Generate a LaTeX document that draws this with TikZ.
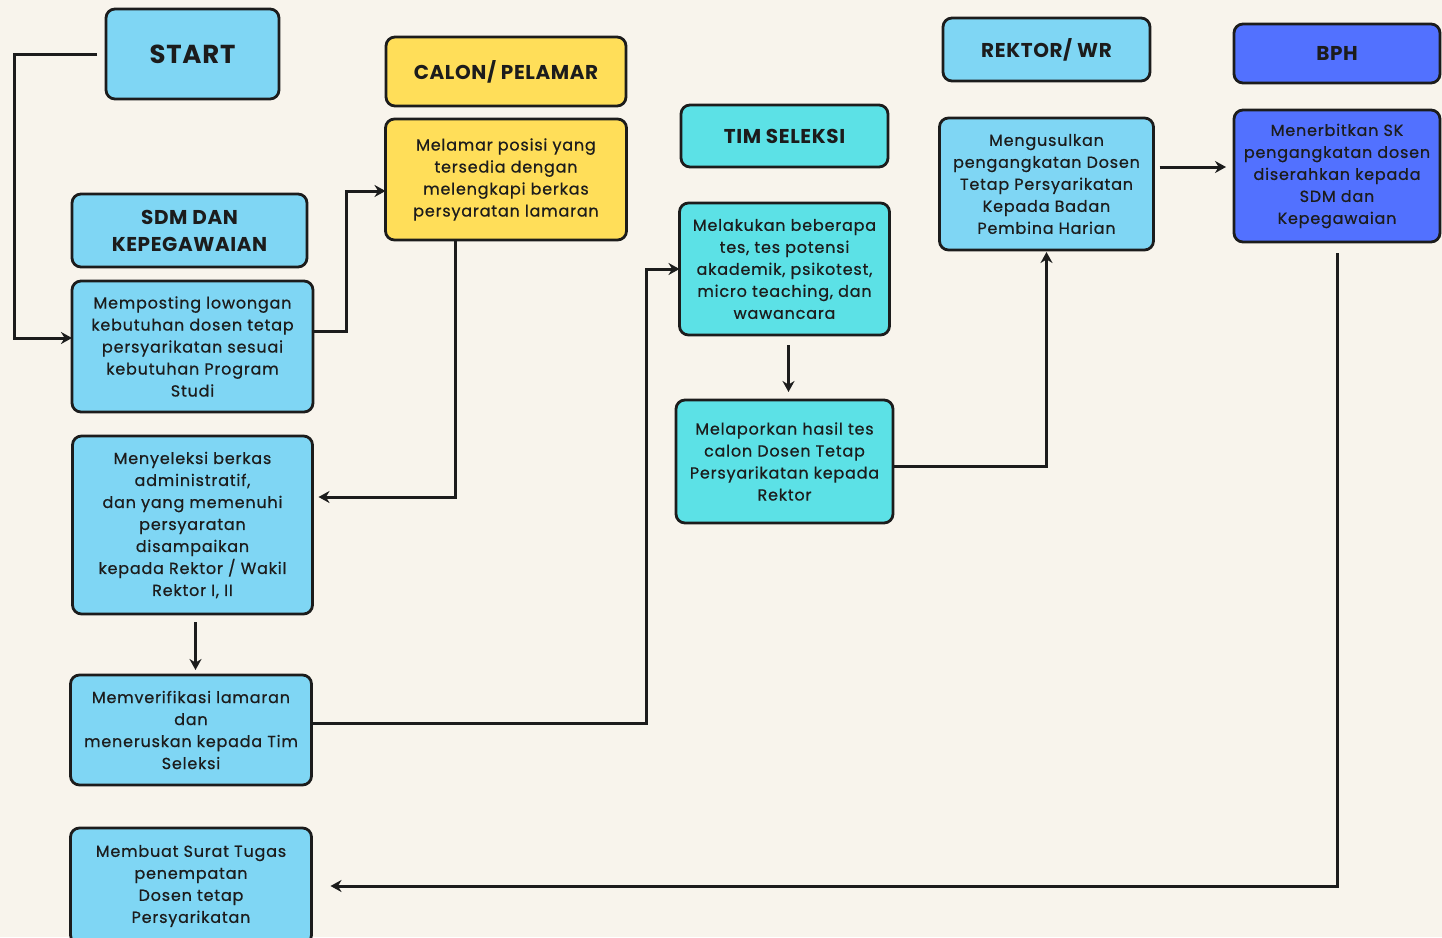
\documentclass[tikz,border=0pt]{standalone}
\usepackage{fontspec}
\setmainfont{Poppins}
\newfontfamily\headfont{Poppins}[LetterSpace=3]
\newfontfamily\bodyfont{Poppins}[LetterSpace=5,FakeBold=0.6]
\usepackage{xcolor}
\usepackage{tikz}
\usetikzlibrary{positioning,arrows.meta}
\definecolor{cream}{HTML}{F8F4EC}
\definecolor{skyblue}{HTML}{7FD6F4}
\definecolor{sunyellow}{HTML}{FFDE59}
\definecolor{turq}{HTML}{5CE1E6}
\definecolor{royal}{HTML}{5271FF}
\definecolor{ink}{HTML}{1C1C1C}

\begin{document}
\begin{tikzpicture}[x=1pt, y=-1pt, >={Stealth[length=11pt,width=12pt]},
  box/.style={rectangle, rounded corners=9pt, draw=ink, line width=2.8pt, align=center, inner sep=0pt, outer sep=0pt, text=ink, font=\bodyfont\fontsize{16}{22}\selectfont},
  head/.style={box, font=\headfont\bfseries\fontsize{20}{27}\selectfont},
  conn/.style={->, draw=ink, line width=3pt}]
\fill[cream] (0,0) rectangle (1442,937);
\useasboundingbox (0,0) rectangle (1442,937);

\node (start) [head, fill=skyblue, minimum width=173pt, minimum height=90pt, font=\headfont\bfseries\fontsize{26}{30}\selectfont] at (192.5,54) {START};
\node (sdm) [head, fill=skyblue, minimum width=235pt, minimum height=73pt] at (189.5,230.5) {SDM DAN\\KEPEGAWAIAN};
\node (posting) [below=14pt of sdm, xshift=3pt, box, fill=skyblue, minimum width=241pt, minimum height=131pt] {Memposting lowongan\\kebutuhan dosen tetap\\persyarikatan sesuai\\kebutuhan Program\\Studi};
\node (seleksi) [below=24pt of posting, box, fill=skyblue, minimum width=240pt, minimum height=178pt] {Menyeleksi berkas\\administratif,\\dan yang memenuhi\\persyaratan\\disampaikan\\kepada Rektor / Wakil\\Rektor I, II};
\node (verif) [below=61pt of seleksi, xshift=-1.5pt, box, fill=skyblue, minimum width=241pt, minimum height=110pt] {Memverifikasi lamaran\\dan\\meneruskan kepada Tim\\Seleksi};
\node (surat) [below=43pt of verif, box, fill=skyblue, minimum width=241pt, minimum height=116pt] {Membuat Surat Tugas\\penempatan\\Dosen tetap\\Persyarikatan};

\node (calon) [head, fill=sunyellow, minimum width=240pt, minimum height=69pt] at (506,71.5) {CALON/ PELAMAR};
\node (melamar) [below=13pt of calon, box, fill=sunyellow, minimum width=241pt, minimum height=121pt] {Melamar posisi yang\\tersedia dengan\\melengkapi berkas\\persyaratan lamaran};

\node (tim) [head, fill=turq, minimum width=207pt, minimum height=62pt] at (784.5,136) {TIM SELEKSI};
\node (tes) [below=36pt of tim, box, fill=turq, minimum width=210pt, minimum height=132pt] {Melakukan beberapa\\tes, tes potensi\\akademik, psikotest,\\micro teaching, dan\\wawancara};
\node (lapor) [below=65pt of tes, box, fill=turq, minimum width=217pt, minimum height=123pt] {Melaporkan hasil tes\\calon Dosen Tetap\\Persyarikatan kepada\\Rektor};

\node (rektor) [head, fill=skyblue, minimum width=207pt, minimum height=63pt] at (1046.5,49.5) {REKTOR/ WR};
\node (usul) [below=37pt of rektor, box, fill=skyblue, minimum width=214pt, minimum height=132pt] {Mengusulkan\\pengangkatan Dosen\\Tetap Persyarikatan\\Kepada Badan\\Pembina Harian};

\node (bph) [head, fill=royal, minimum width=206pt, minimum height=59pt] at (1337,53.5) {BPH};
\node (sk) [below=27pt of bph, box, fill=royal, minimum width=206pt, minimum height=132pt] {Menerbitkan SK\\pengangkatan dosen\\diserahkan kepada\\SDM dan\\Kepegawaian};

\draw[conn, shorten <=9pt] (start.west) -- ++(-92,0) |- ([yshift=8.5pt]posting.west);
\draw[conn] ([yshift=15pt]posting.east) -- ++(33,0) |- ([yshift=-11.5pt]melamar.west);
\draw[conn, shorten >=6pt] ([xshift=-51pt]melamar.south) |- ([yshift=28pt]seleksi.east);
\draw[conn, shorten <=8pt, shorten >=5pt] ([xshift=3pt]seleksi.south) -- ([xshift=4.5pt]verif.north);
\draw[conn] ([yshift=7pt]verif.east) -- ++(335,0) |- (tes.west);
\draw[conn, shorten <=10pt, shorten >=8pt] ([xshift=4pt]tes.south) -- ([xshift=4pt]tes.south |- lapor.north);
\draw[conn, shorten >=2pt] ([yshift=-4.5pt]lapor.east) -| (usul.south);
\draw[conn, shorten <=6pt, shorten >=8pt] ([yshift=17pt]usul.east) -- ([yshift=17pt]usul.east -| sk.west);
\draw[conn, shorten <=11pt, shorten >=19pt] (sk.south) |- (surat.east);
\end{tikzpicture}
\end{document}
